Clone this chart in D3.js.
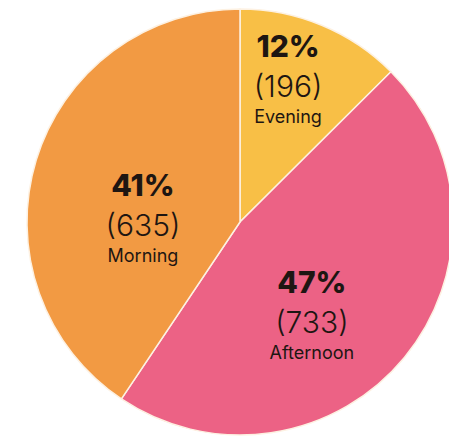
<!DOCTYPE html>
<html>
<head>
<meta charset="utf-8">
<script src="https://cdn.jsdelivr.net/npm/d3@7"></script>
<style>
  body { margin: 0; background: #fff; }
  svg { display: block; }
</style>
</head>
<body>
<script>
// slice data, clockwise from 12 o'clock
var categories = ["Evening", "Afternoon", "Morning"];
var counts = [196, 733, 635];
var percentLabels = ["12%", "47%", "41%"];
var colors = ["#F8BF46", "#EC6285", "#F29A43"];

var width = 449, height = 436;
var cx = 240, cy = 222, radius = 213;

// label anchor placement: [angle in degrees from 12 o'clock, distance from centre]
var labelPlace = [[21, 134], [147, 132], [262, 98]];

var svg = d3.select("body").append("svg")
    .attr("width", width)
    .attr("height", height);

var g = svg.append("g")
    .attr("transform", "translate(" + cx + "," + cy + ")");

var pie = d3.pie().sort(null).value(function(d) { return d; });
var arcs = pie(counts);

var arc = d3.arc().innerRadius(0).outerRadius(radius);

g.selectAll("path")
    .data(arcs)
    .enter()
    .append("path")
    .attr("d", arc)
    .style("fill", function(d, i) { return colors[i]; })
    .style("stroke", "#fdf1e2")
    .style("stroke-width", 1.5);

var labels = g.selectAll("g.label")
    .data(arcs)
    .enter()
    .append("g")
    .attr("class", "label")
    .attr("transform", function(d, i) {
        var a = labelPlace[i][0] * Math.PI / 180, r = labelPlace[i][1];
        return "translate(" + (r * Math.sin(a)) + "," + (-r * Math.cos(a)) + ")";
    })
    .style("font-family", "Inter, 'Noto Sans', sans-serif")
    .style("fill", "#1e1612")
    .attr("text-anchor", "middle");

labels.append("text")
    .attr("y", -40)
    .style("font-size", "30px")
    .style("font-weight", 800)
    .text(function(d, i) { return percentLabels[i]; });

labels.append("text")
    .attr("y", 0)
    .style("font-size", "30px")
    .style("font-weight", 300)
    .text(function(d, i) { return "(" + counts[i] + ")"; });

labels.append("text")
    .attr("y", 26)
    .style("font-size", "18px")
    .style("font-weight", 400)
    .text(function(d, i) { return categories[i]; });
</script>
</body>
</html>
